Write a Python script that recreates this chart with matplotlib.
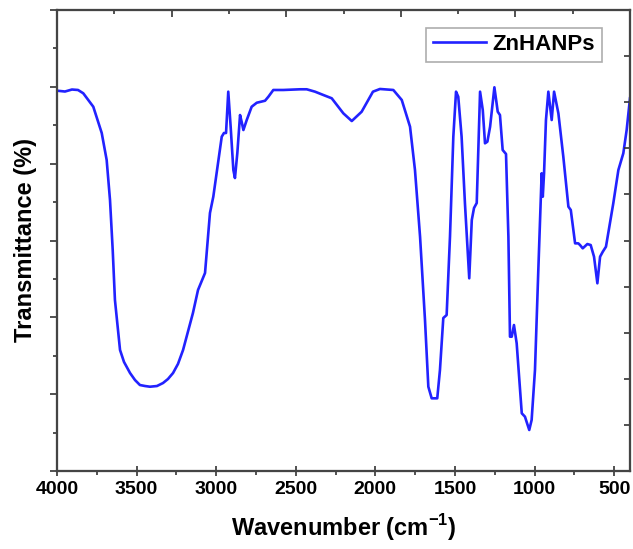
import numpy as np
import matplotlib
matplotlib.use("Agg")
import matplotlib.pyplot as plt
from matplotlib.ticker import MultipleLocator

plt.rcParams['font.family'] = ['Liberation Sans', 'DejaVu Sans']
plt.rcParams['mathtext.fontset'] = 'custom'
plt.rcParams['mathtext.rm'] = 'Liberation Sans'
plt.rcParams['mathtext.bf'] = 'Liberation Sans:bold'

# spectrum (wavenumber in cm-1, transmittance in arbitrary units)
wavenumber = [4000, 3950, 3906, 3868, 3835, 3772, 3719, 3688, 3667, 3650, 3636, 3604,
              3579, 3541, 3510, 3479, 3447, 3416, 3372, 3334, 3303, 3271, 3240, 3208,
              3146, 3114, 3070, 3039, 3018, 2965,
              2951, 2938, 2924, 2909, 2892, 2882, 2867, 2850, 2840, 2829, 2808, 2777,
              2745, 2693, 2672, 2641, 2578, 2473, 2431, 2379, 2327, 2274, 2201, 2148,
              2086, 2015, 1971, 1887, 1834, 1782, 1751, 1719, 1688, 1667, 1646, 1611,
              1594, 1573, 1552, 1531, 1510, 1493, 1479, 1458, 1437, 1410, 1394, 1380,
              1363, 1342, 1325, 1311, 1296, 1279, 1252, 1231, 1217, 1200, 1179, 1164,
              1154, 1143, 1129, 1112, 1080, 1060, 1033, 1018, 997, 976, 955, 948,
              940, 928, 913, 892, 877, 850, 819, 787, 772, 745, 725, 714,
              697, 668, 647, 626, 605, 588, 571, 551, 505, 473, 442, 421, 400]
transmittance = [49.50, 49.39, 49.65, 49.59, 49.16, 47.41, 43.99, 40.48, 35.27, 28.76, 22.26, 15.75,
                 14.19, 12.75, 11.84, 11.19, 11.06, 10.97, 11.06, 11.45, 11.97, 12.75, 13.93, 15.75,
                 20.56, 23.56, 25.77, 33.58, 35.70, 43.51,
                 43.99, 43.99, 49.37, 44.81, 39.18, 38.13, 41.39, 46.33, 45.46, 44.38, 45.68, 47.41,
                 47.93, 48.19, 48.71, 49.59, 49.59, 49.68, 49.68, 49.37, 48.94, 48.51, 46.55, 45.55,
                 46.76, 49.37, 49.72, 49.59, 48.29, 44.81, 39.18, 30.49, 19.65, 10.97, 9.46, 9.46,
                 13.15, 19.91, 20.30, 30.49, 43.51, 49.37, 48.71, 43.51, 34.84, 25.08, 32.67, 34.23,
                 34.88, 49.37, 46.98, 42.65, 42.86, 44.81, 49.94, 46.76, 46.33, 41.78, 41.26, 30.49,
                 17.48, 17.48, 19.00, 16.62, 7.51, 7.07, 5.34, 6.64, 13.15, 26.16, 38.75, 35.70,
                 38.75, 45.68, 49.37, 45.68, 49.37, 46.55, 40.91, 34.40, 33.97, 29.63, 29.63, 29.41,
                 28.98, 29.54, 29.41, 27.89, 24.43, 27.89, 28.54, 29.19, 34.84, 39.18, 41.35, 44.38, 48.51]

fig = plt.figure(figsize=(6.33, 5.49), dpi=100)
ax = fig.add_axes([57 / 633, 78 / 549, 573 / 633, 461 / 549])

ax.plot(wavenumber, transmittance, color='#2222ff', lw=1.9, label='ZnHANPs',
        solid_joinstyle='round')

ax.set_xlim(4000, 400)
ax.set_ylim(0, 60)
ax.xaxis.set_major_locator(MultipleLocator(500))
ax.xaxis.set_minor_locator(MultipleLocator(250))
ax.yaxis.set_major_locator(MultipleLocator(10))
ax.yaxis.set_minor_locator(MultipleLocator(5))
ax.set_yticklabels([])
ax.tick_params(axis='x', which='major', direction='inout', length=7, width=1.2,
               labelsize=14, pad=4, colors='#333333', labelcolor='black')
ax.tick_params(axis='x', which='minor', direction='out', length=3, width=1.2, colors='#333333')
ax.tick_params(axis='y', which='major', direction='out', length=5, width=1.2, colors='#333333')
ax.tick_params(axis='y', which='minor', direction='out', length=3, width=1.2, colors='#333333')
for lab in ax.get_xticklabels():
    lab.set_fontweight('bold')

for s in ax.spines.values():
    s.set_color('#444444')
    s.set_linewidth(1.5)

# mirrored frame ticks on top and right
top = ax.twiny()
top.set_xlim(0, 10)
top.xaxis.set_major_locator(MultipleLocator(2))
top.xaxis.set_minor_locator(MultipleLocator(1))
top.tick_params(axis='x', which='both', direction='in', labeltop=False, width=1.2, colors='#333333')
top.tick_params(axis='x', which='major', length=5)
top.tick_params(axis='x', which='minor', length=3)
right = ax.twinx()
right.set_ylim(0, 10)
right.yaxis.set_major_locator(MultipleLocator(2))
right.yaxis.set_minor_locator(MultipleLocator(1))
right.tick_params(axis='y', which='both', direction='in', labelright=False, width=1.2, colors='#333333')
right.tick_params(axis='y', which='major', length=4)
right.tick_params(axis='y', which='minor', length=4)
for a in (top, right):
    for s in a.spines.values():
        s.set_color('#444444')
        s.set_linewidth(1.5)

ax.set_xlabel(r'Wavenumber (cm$^{\mathbf{-1}}$)', fontsize=17, fontweight='bold', labelpad=10)
ax.set_ylabel('Transmittance (%)', fontsize=17, fontweight='bold')
ax.yaxis.set_label_coords(-0.035, 0.5)

leg = ax.legend(loc='upper right', bbox_to_anchor=(0.951, 0.962),
                prop={'weight': 'bold', 'size': 16}, fancybox=False, frameon=True,
                handlelength=2.4, borderpad=0.3, handletextpad=0.3, borderaxespad=0)
leg.get_frame().set_edgecolor('#999999')
leg.get_frame().set_linewidth(1.2)
leg.set_zorder(5)

fig.savefig('out.png', dpi=100)
